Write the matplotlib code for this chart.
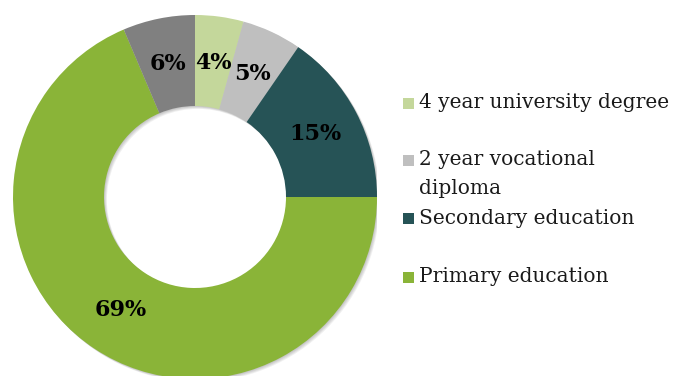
import matplotlib
matplotlib.use("Agg")
import matplotlib.pyplot as plt
from matplotlib.patches import Rectangle, Wedge
import numpy as np

categories = ["4 year university degree", "2 year vocational\ndiploma",
              "Secondary education", "Primary education", "Other"]
values = [4.3, 5.3, 15.4, 68.6, 6.4]
labels = ["4%", "5%", "15%", "69%", "6%"]
colors = ["#C4D79B", "#BFBFBF", "#265356", "#8AB438", "#808080"]
in_legend = [True, True, True, True, False]

W, H = 676, 376
fig = plt.figure(figsize=(W / 100, H / 100), dpi=100)
fig.patch.set_facecolor("white")

cx, cy, R = 195, 197, 182
ax = fig.add_axes([(cx - R) / W, (H - cy - R) / H, 2 * R / W, 2 * R / H])

# soft shadow behind the ring
for k, a in enumerate([0.06, 0.06, 0.06, 0.06]):
    off = 0.004 * (k + 1)
    ax.add_patch(Wedge((off, -off), 1.0, 0, 360, width=0.5, facecolor="black",
                       alpha=a, linewidth=0, zorder=0))

wedges, texts = ax.pie(values, colors=colors, startangle=90, counterclock=False,
                       radius=1.0, wedgeprops=dict(width=0.5, linewidth=0, zorder=1))
ax.set_aspect("equal")
ax.set_xlim(-1, 1)
ax.set_ylim(-1, 1)
ax.axis("off")

ang = 90.0
for v, lab in zip(values, labels):
    mid = np.deg2rad(ang - v * 3.6 / 2)
    ang -= v * 3.6
    ax.text(0.745 * np.cos(mid), 0.745 * np.sin(mid), lab, ha="center", va="center",
            fontsize=16, fontweight="bold", family="DejaVu Serif", color="black",
            zorder=3)

# legend
leg_y = [103, 160, 218, 277]
i = 0
for cat, col, show in zip(categories, colors, in_legend):
    if not show:
        continue
    y = leg_y[i]
    i += 1
    fig.patches.append(Rectangle((403 / W, (H - y - 6) / H), 11 / W, 11 / H,
                                 transform=fig.transFigure, facecolor=col,
                                 edgecolor="none"))
    for k, line in enumerate(cat.split("\n")):
        fig.text(419 / W, (H - y - k * 28) / H, line, ha="left", va="center",
                 fontsize=14.5, family="DejaVu Serif", color="#1a1a1a")

fig.savefig("out.png", dpi=100)
